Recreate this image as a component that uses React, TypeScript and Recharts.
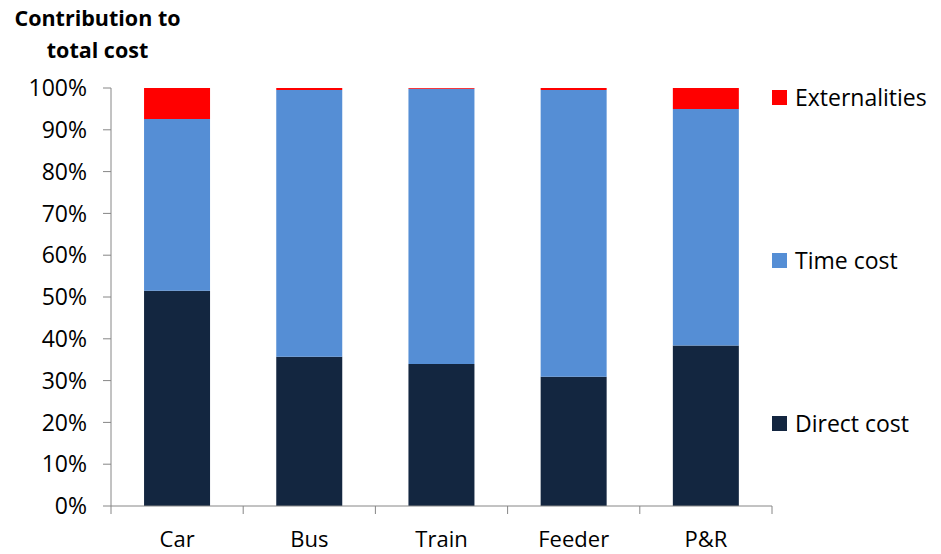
import { BarChart, Bar, XAxis, YAxis } from "recharts";

const categories = ["Car", "Bus", "Train", "Feeder", "P&R"];
const directCost = [51.5, 35.7, 34.0, 30.9, 38.4];
const timeCost = [41.1, 63.8, 65.8, 68.6, 56.6];
const externalities = [7.4, 0.5, 0.2, 0.5, 5.0];
const yTicks = [0, 10, 20, 30, 40, 50, 60, 70, 80, 90, 100];

const series = [
  { key: "direct", name: "Direct cost", color: "#132640", values: directCost },
  { key: "time", name: "Time cost", color: "#558ED5", values: timeCost },
  { key: "ext", name: "Externalities", color: "#FF0000", values: externalities },
];

const data = categories.map((mode, i) => {
  const row: Record<string, string | number> = { mode };
  series.forEach((s) => (row[s.key] = s.values[i]));
  return row;
});

const FONT = "'Open Sans', sans-serif";
const AXIS = "#868686";
const LABEL_SIZE = 23;
const W = 941;
const H = 554;
const MARGIN = { top: 88, right: 169, bottom: 0, left: 31 };
const Y_AXIS_W = 80;
const X_AXIS_H = 48;
const PLOT_LEFT = MARGIN.left + Y_AXIS_W;
const PLOT_RIGHT = W - MARGIN.right;
const PLOT_BOTTOM = H - X_AXIS_H;
const BAND = (PLOT_RIGHT - PLOT_LEFT) / categories.length;

// category label plus tick marks on the band boundaries
function CategoryTick(props: any) {
  const { x, payload, index } = props;
  const left = x - BAND / 2;
  const right = x + BAND / 2;
  return (
    <g>
      <line x1={left} x2={left} y1={PLOT_BOTTOM} y2={PLOT_BOTTOM + 8} stroke={AXIS} />
      {index === categories.length - 1 && (
        <line x1={right} x2={right} y1={PLOT_BOTTOM} y2={PLOT_BOTTOM + 8} stroke={AXIS} />
      )}
      <text x={x} y={PLOT_BOTTOM + 41} textAnchor="middle" fontSize={22} fontFamily={FONT} fill="#000">
        {payload.value}
      </text>
    </g>
  );
}

const legendRows = [
  { ...series[2], y: 97 },
  { ...series[1], y: 260 },
  { ...series[0], y: 423 },
];

export default function App() {
  return (
    <div style={{ position: "absolute", left: 0, top: 0, width: W, height: H, background: "#fff", fontFamily: FONT }}>
      <div
        style={{
          position: "absolute",
          left: 0,
          top: 2,
          width: 195,
          textAlign: "center",
          fontWeight: 700,
          fontSize: 21.5,
          lineHeight: "32px",
          color: "#000",
        }}
      >
        Contribution to
        <br />
        total cost
      </div>
      <BarChart width={W} height={H} data={data} margin={MARGIN} barCategoryGap="25%">
        <XAxis
          dataKey="mode"
          height={X_AXIS_H}
          tickLine={false}
          axisLine={{ stroke: AXIS }}
          tick={<CategoryTick />}
          interval={0}
        />
        <YAxis
          width={Y_AXIS_W}
          domain={[0, 100]}
          ticks={yTicks}
          interval={0}
          tickFormatter={(v) => `${v}%`}
          tickSize={8}
          tickMargin={16}
          axisLine={{ stroke: AXIS }}
          tickLine={{ stroke: AXIS }}
          tick={{ fontSize: LABEL_SIZE, fill: "#000", fontFamily: FONT }}
        />
        {series.map((s) => (
          <Bar key={s.key} dataKey={s.key} name={s.name} stackId="cost" fill={s.color} isAnimationActive={false} />
        ))}
      </BarChart>
      {legendRows.map((r) => (
        <div
          key={r.key}
          style={{
            position: "absolute",
            left: 772,
            top: r.y - 14,
            height: 28,
            display: "flex",
            alignItems: "center",
            fontSize: LABEL_SIZE,
            color: "#000",
            whiteSpace: "nowrap",
          }}
        >
          <span style={{ width: 15, height: 15, background: r.color, marginRight: 8, display: "inline-block" }} />
          {r.name}
        </div>
      ))}
    </div>
  );
}
